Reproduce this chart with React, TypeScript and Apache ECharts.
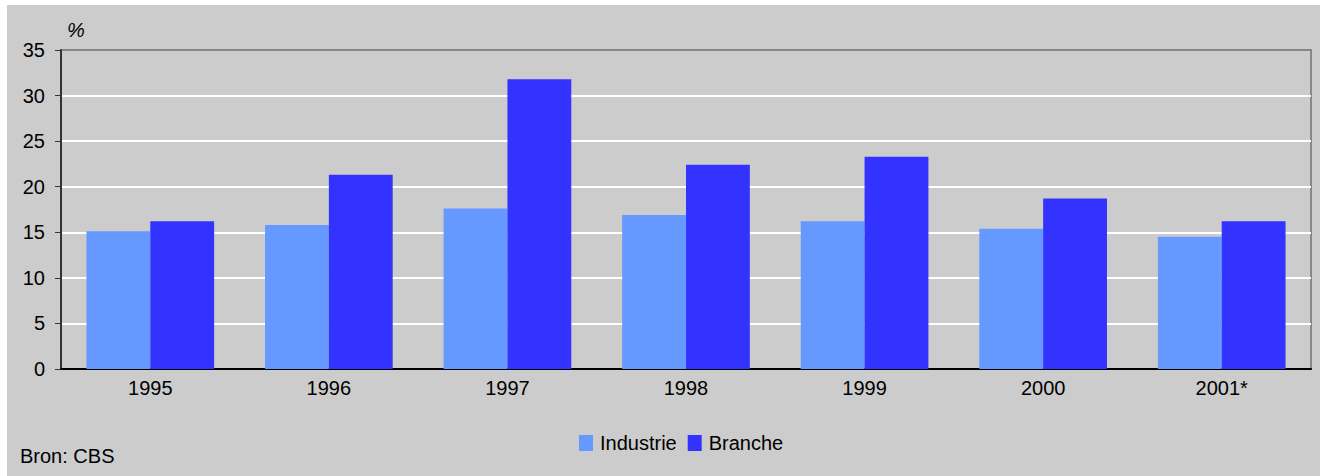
import React, { useEffect, useRef } from "react";
import * as echarts from "echarts";

const years = ["1995", "1996", "1997", "1998", "1999", "2000", "2001*"];
const industrie = [15.1, 15.8, 17.6, 16.9, 16.2, 15.4, 14.5];
const branche = [16.2, 21.3, 31.8, 22.4, 23.3, 18.7, 16.2];
const yTicks = { min: 0, max: 35, interval: 5 };
const seriesNames = ["Industrie", "Branche"];
const unitLabel = "%";
const sourceLabel = "Bron: CBS";

const FONT = "'Liberation Sans', Arial, sans-serif";

export default function App() {
  const ref = useRef<HTMLDivElement>(null);
  useEffect(() => {
    if (!ref.current) return;
    const chart = echarts.init(ref.current, null, { renderer: "svg" });
    chart.setOption({
      animation: false,
      backgroundColor: "#CCCCCC",
      textStyle: { fontFamily: FONT, color: "#000" },
      grid: {
        left: 54,
        top: 45,
        right: 9,
        bottom: 107,
        show: true,
        backgroundColor: "transparent",
        borderColor: "#888888",
        borderWidth: 2,
      },
      legend: {
        left: 572,
        top: 428,
        padding: 0,
        itemWidth: 14,
        itemHeight: 16,
        itemGap: 11,
        icon: "rect",
        textStyle: { fontFamily: FONT, fontSize: 20, color: "#000", padding: [0, 0, 0, 2] },
        data: seriesNames,
      },
      xAxis: {
        type: "category",
        data: years,
        axisLine: { show: true, lineStyle: { color: "#000", width: 2 } },
        axisTick: { show: false },
        axisLabel: { fontFamily: FONT, fontSize: 20, color: "#000", margin: 9 },
      },
      yAxis: {
        type: "value",
        min: yTicks.min,
        max: yTicks.max,
        interval: yTicks.interval,
        axisLine: { show: true, lineStyle: { color: "#333", width: 2 } },
        axisTick: { show: true, length: 6, lineStyle: { color: "#333", width: 1 } },
        axisLabel: { fontFamily: FONT, fontSize: 20, color: "#000", margin: 16 },
        splitLine: {
          show: true,
          showMinLine: false,
          showMaxLine: false,
          lineStyle: { color: "#FFFFFF", width: 2 },
        },
      },
      series: [
        {
          name: seriesNames[0],
          type: "bar",
          data: industrie,
          itemStyle: { color: "#6699FF" },
          barGap: "0%",
          barCategoryGap: "28.5%",
        },
        {
          name: seriesNames[1],
          type: "bar",
          data: branche,
          itemStyle: { color: "#3333FF" },
          barGap: "0%",
          barCategoryGap: "28.5%",
        },
      ],
      graphic: [
        {
          type: "text",
          left: 60,
          top: 15,
          style: { text: unitLabel, fontFamily: FONT, fontSize: 20, fontStyle: "italic", fill: "#000" },
        },
        {
          type: "text",
          left: 13,
          top: 441,
          style: { text: sourceLabel, fontFamily: FONT, fontSize: 20, fill: "#000" },
        },
      ],
    });
    return () => chart.dispose();
  }, []);
  return (
    <div
      ref={ref}
      style={{ position: "absolute", left: 7, top: 5, width: 1313, height: 471 }}
    />
  );
}
